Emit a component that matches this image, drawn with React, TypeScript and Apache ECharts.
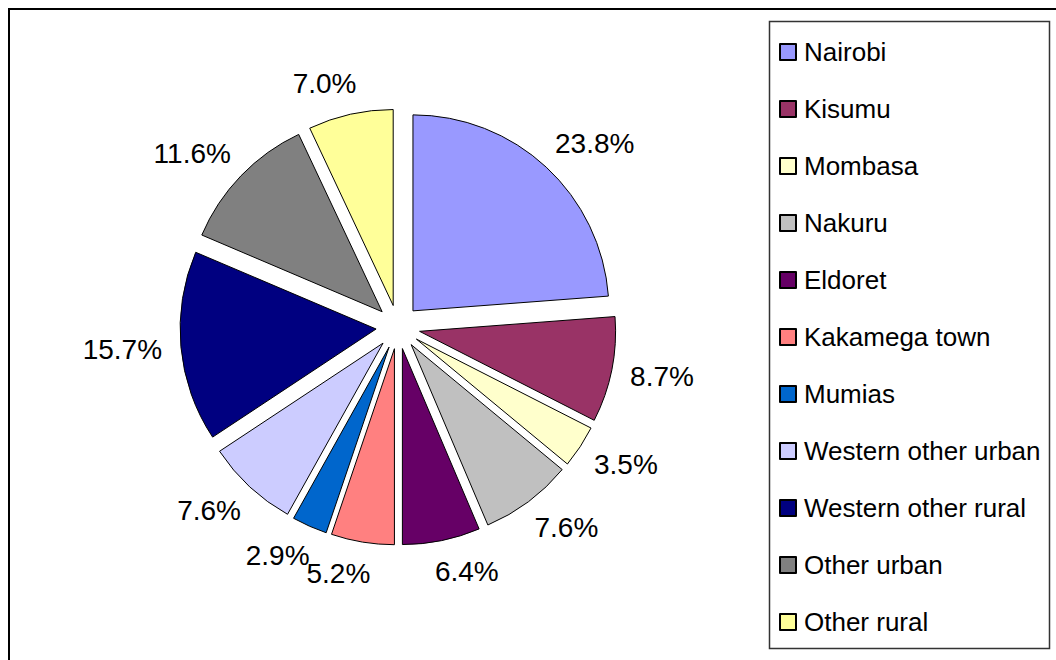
import React, { useEffect, useRef } from "react";
import * as echarts from "echarts";

const categories = [
  "Nairobi",
  "Kisumu",
  "Mombasa",
  "Nakuru",
  "Eldoret",
  "Kakamega town",
  "Mumias",
  "Western other urban",
  "Western other rural",
  "Other urban",
  "Other rural",
];
const shares = [23.8, 8.7, 3.5, 7.6, 6.4, 5.2, 2.9, 7.6, 15.7, 11.6, 7.0];
const palette = [
  "#9999FF",
  "#993366",
  "#FFFFCC",
  "#C0C0C0",
  "#660066",
  "#FF8080",
  "#0066CC",
  "#CCCCFF",
  "#000080",
  "#808080",
  "#FFFF99",
];

const FONT = 'Arial, "Liberation Sans", sans-serif';

export default function App() {
  const ref = useRef<HTMLDivElement>(null);
  useEffect(() => {
    if (!ref.current) return;
    const chart = echarts.init(ref.current, null, { renderer: "svg" });
    chart.setOption({
      animation: false,
      backgroundColor: "#ffffff",
      color: palette,
      graphic: [
        {
          type: "rect",
          shape: { x: 9, y: 9, width: 1100, height: 700 },
          style: { fill: "none", stroke: "#000", lineWidth: 2 },
          silent: true,
        },
        {
          type: "rect",
          shape: { x: 769.5, y: 21.5, width: 280, height: 627 },
          style: { fill: "none", stroke: "#333", lineWidth: 1.5 },
          silent: true,
        },
      ],
      legend: {
        orient: "vertical",
        left: 779,
        top: 37,
        padding: 0,
        itemWidth: 16,
        itemHeight: 16,
        itemGap: 27,
        icon: "rect",
        selectedMode: false,
        data: categories,
        textStyle: {
          fontSize: 26,
          color: "#000",
          fontFamily: FONT,
          lineHeight: 30,
          padding: [0, 0, 0, 3],
        },
      },
      series: [
        {
          type: "pie",
          center: [398, 327],
          radius: 196,
          startAngle: 90,
          clockwise: true,
          selectedMode: "multiple",
          selectedOffset: 22,
          avoidLabelOverlap: false,
          labelLayout: { hideOverlap: false },
          emphasis: { disabled: true },
          itemStyle: { borderColor: "#000", borderWidth: 1 },
          label: {
            show: true,
            position: "outside",
            fontSize: 28,
            color: "#000",
            fontFamily: FONT,
            distanceToLabelLine: -13,
            formatter: (p: any) => Number(p.value).toFixed(1) + "%",
          },
          labelLine: { show: false, length: 32, length2: 0 },
          data: categories.map((name, i) => ({
            name,
            value: shares[i],
            selected: true,
          })),
        },
      ],
    });
    return () => chart.dispose();
  }, []);
  return (
    <div
      ref={ref}
      style={{ position: "absolute", left: 0, top: 0, width: 1056, height: 660 }}
    />
  );
}
